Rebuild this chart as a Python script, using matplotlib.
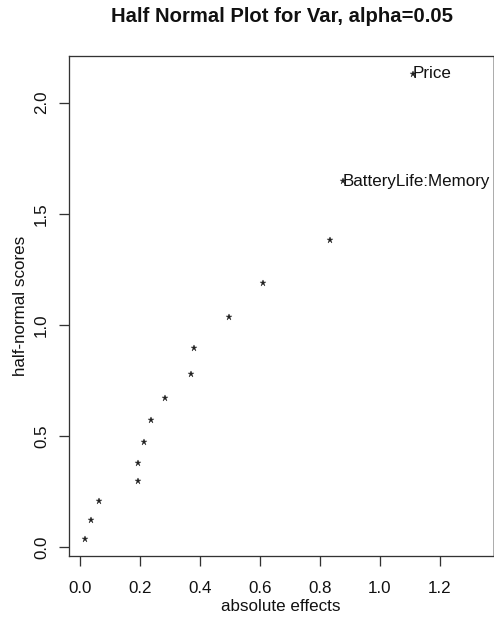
import matplotlib
matplotlib.use("Agg")
import matplotlib.pyplot as plt

# absolute effects (sorted) and their half-normal scores
effects = [0.017, 0.039, 0.063, 0.194, 0.194, 0.213, 0.239, 0.283,
           0.369, 0.379, 0.498, 0.611, 0.833, 0.878, 1.111]
scores = [0.038, 0.123, 0.206, 0.296, 0.380, 0.475, 0.571, 0.670,
          0.779, 0.898, 1.036, 1.189, 1.381, 1.647, 2.129]
labels = [""] * 13 + ["BatteryLife:Memory", "Price"]

x_ticks = [0.0, 0.2, 0.4, 0.6, 0.8, 1.0, 1.2]
y_ticks = [0.0, 0.5, 1.0, 1.5, 2.0]

plt.rcParams["font.family"] = ["Liberation Sans", "DejaVu Sans"]
fs = 17

fig = plt.figure(figsize=(494 / 72, 621 / 72), dpi=72)
ax = fig.add_axes([0.1397, 0.1039, 0.9970 - 0.1397, 0.9106 - 0.1039])

ax.plot(effects, scores, linestyle="none", marker="*", markersize=6.5,
        color="#222222", markeredgewidth=0.4)
for x, y, lab in zip(effects, scores, labels):
    if lab:
        ax.text(x - 0.003, y, lab, ha="left", va="center", fontsize=fs,
                color="#111111")

ax.set_xlim(-0.0357, 1.375)
ax.set_ylim(-0.0423, 2.212)
ax.set_xticks(x_ticks)
ax.set_xticklabels([f"{v:.1f}" for v in x_ticks])
ax.set_yticks(y_ticks)
ax.set_yticklabels([f"{v:.1f}" for v in y_ticks], rotation=90, va="center")
ax.tick_params(direction="out", length=10, width=1.3, labelsize=fs,
               color="#333333", labelcolor="#111111")
ax.tick_params(axis="x", pad=15)
ax.tick_params(axis="y", pad=10)
for side in ["left", "bottom", "top"]:
    ax.spines[side].set_color("#333333")
    ax.spines[side].set_linewidth(1.3)
ax.spines["right"].set_color("#999999")

ax.set_xlabel("absolute effects", fontsize=fs, labelpad=3, color="#111111")
ax.set_ylabel("half-normal scores", fontsize=fs, labelpad=6,
              color="#111111")
fig.text(0.57, 0.974, "Half Normal Plot for Var, alpha=0.05", ha="center",
         va="center", fontsize=20.3, fontweight="bold", color="#111111")

fig.savefig("out.png", dpi=72)
